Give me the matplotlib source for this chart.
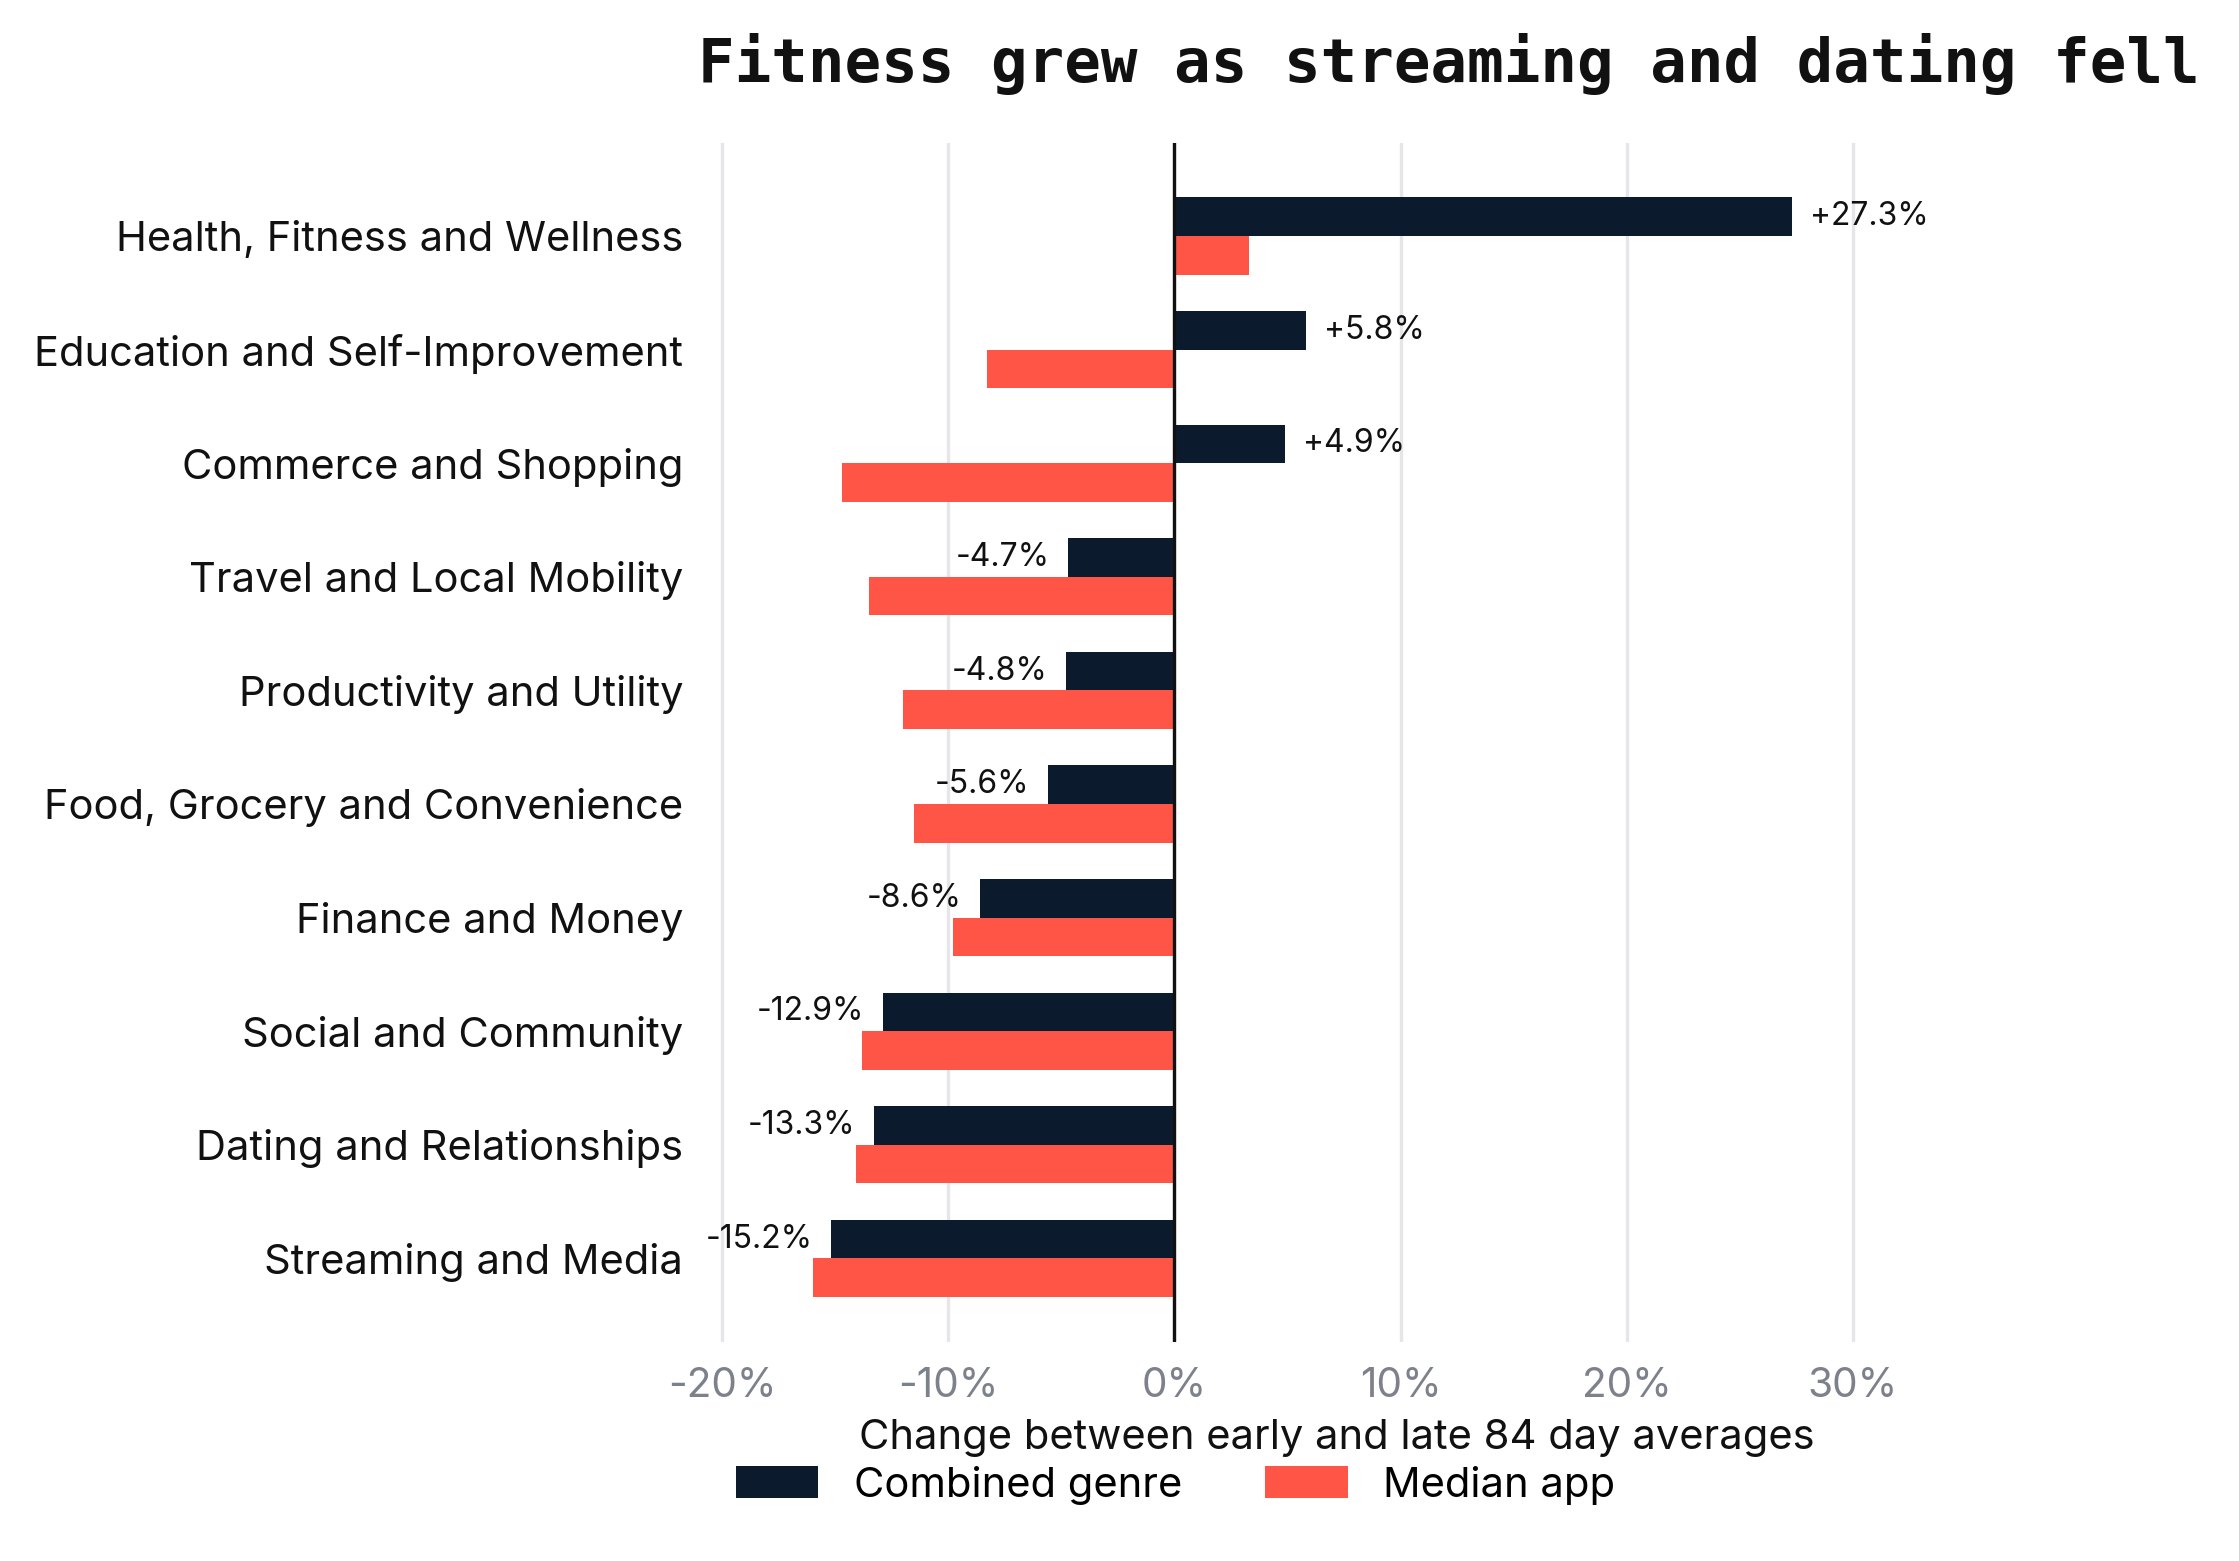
import matplotlib
matplotlib.use('Agg')
import matplotlib.pyplot as plt
import numpy as np

categories = [
    'Health, Fitness and Wellness',
    'Education and Self-Improvement',
    'Commerce and Shopping',
    'Travel and Local Mobility',
    'Productivity and Utility',
    'Food, Grocery and Convenience',
    'Finance and Money',
    'Social and Community',
    'Dating and Relationships',
    'Streaming and Media',
]
combined_genre = [27.3, 5.8, 4.9, -4.7, -4.8, -5.6, -8.6, -12.9, -13.3, -15.2]
median_app = [3.3, -8.3, -14.7, -13.5, -12.0, -11.5, -9.8, -13.8, -14.1, -16.0]
xticks = [-20, -10, 0, 10, 20, 30]

navy = '#0b1b2d'
red = '#ff5547'

plt.rcParams['font.family'] = ['Inter', 'DejaVu Sans']

fig = plt.figure(figsize=(11.195, 7.805), dpi=200)
ax = fig.add_axes([0.3125, 0.14, 0.878 - 0.3125, 0.9085 - 0.14])

y = np.arange(len(categories))
h = 0.34
ax.barh(y - h / 2, combined_genre, height=h, color=navy, label='Combined genre', zorder=3)
ax.barh(y + h / 2, median_app, height=h, color=red, label='Median app', zorder=3)

# value labels on the combined bars
for yi, v in zip(y, combined_genre):
    txt = f'{v:+.1f}%'
    if v >= 0:
        ax.text(v + 0.8, yi - h / 2, txt, ha='left', va='center', fontsize=11.5, color='#111111')
    else:
        ax.text(v - 0.8, yi - h / 2, txt, ha='right', va='center', fontsize=11.5, color='#111111')

ax.axvline(0, color='#111111', linewidth=1.2, zorder=4)
ax.set_xlim(-21, 35)
ax.set_ylim(9.74, -0.82)
ax.set_xticks(xticks)
ax.set_xticklabels([f'{t}%' for t in xticks], fontsize=14.6, color='#7d818c')
ax.set_yticks(y)
ax.set_yticklabels(categories, fontsize=15, color='#111111')
ax.tick_params(axis='both', length=0)
ax.tick_params(axis='x', pad=9)
ax.tick_params(axis='y', pad=6)
ax.grid(axis='x', color='#e6e6ea', linewidth=1.2, zorder=0)
ax.grid(axis='y', visible=False)
for s in ax.spines.values():
    s.set_visible(False)

fig.text(0.597, 0.079, 'Change between early and late 84 day averages',
         ha='center', va='center', fontsize=15, color='#111111')
fig.text(0.647, 0.959, 'Fitness grew as streaming and dating fell',
         ha='center', va='center', fontsize=21.9, fontweight='bold',
         family='DejaVu Sans Mono', color='#111111')

fig.legend(loc='center', bbox_to_anchor=(0.525, 0.0485), ncol=2, frameon=False,
           fontsize=15, handlelength=1.98, handleheight=0.79,
           handletextpad=0.85, columnspacing=2.0)

fig.savefig('out.png', dpi=200)
